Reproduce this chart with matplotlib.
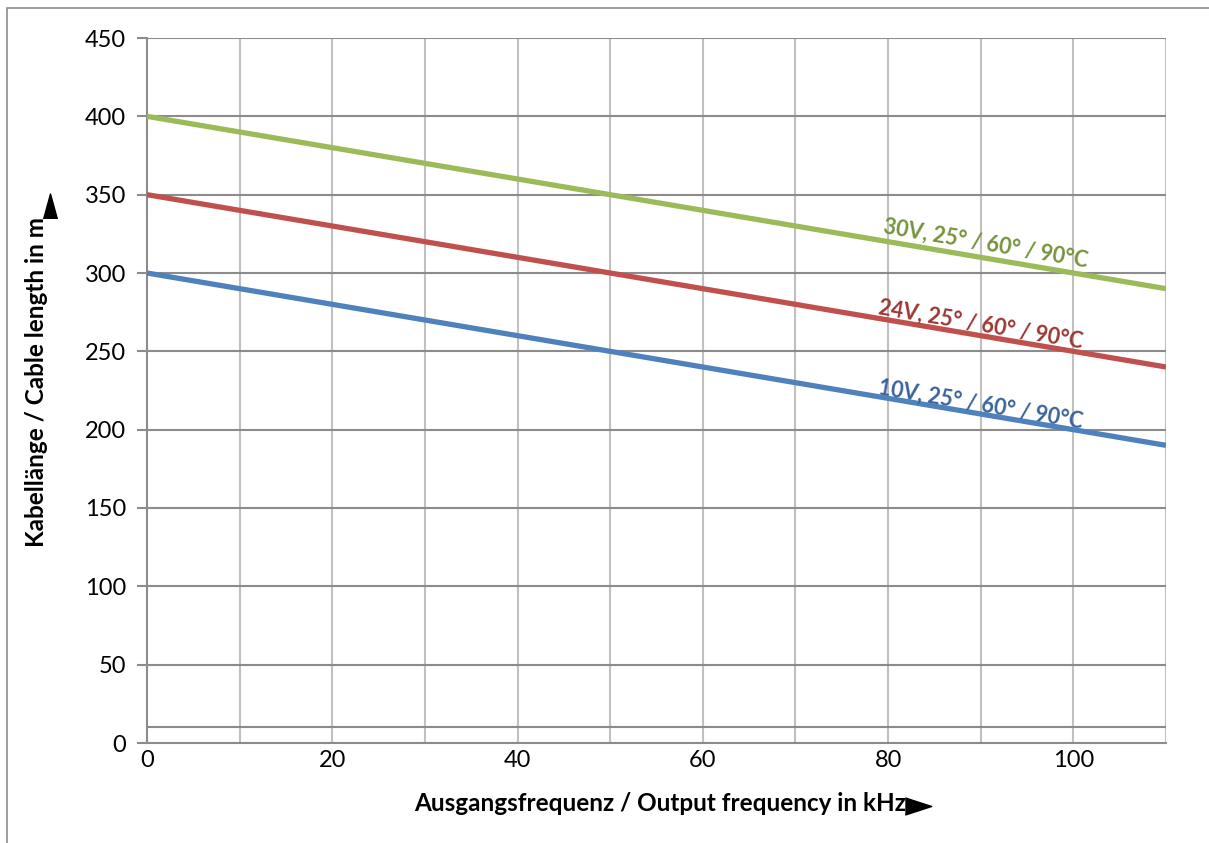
import matplotlib.pyplot as plt
from matplotlib.lines import Line2D
from matplotlib.patches import Rectangle

plt.rcParams['font.family'] = ['Lato', 'DejaVu Sans']

# data
freq_khz = [0, 110]
len_10v = [300, 190]
len_24v = [350, 240]
len_30v = [400, 290]
labels = ['10V, 25° / 60° / 90°C', '24V, 25° / 60° / 90°C', '30V, 25° / 60° / 90°C']
line_colors = ['#4F81BD', '#C0504D', '#9BBB59']
text_colors = ['#3A639A', '#9B3734', '#76933C']
label_pos = [(90.0, 216), (90.0, 267), (90.5, 319)]

W, H = 1209, 843
fig = plt.figure(figsize=(W / 100, H / 100), dpi=100)
ax = fig.add_axes([147 / W, 100 / H, 1019 / W, 705 / H])

# outer chart frame
fig.patches.append(Rectangle((7 / W, -0.1), 1.2, 835 / H + 0.1,
                             transform=fig.transFigure, fill=False,
                             edgecolor='#8c8c8c', linewidth=1.2))

for ys, c in zip([len_10v, len_24v, len_30v], line_colors):
    ax.plot(freq_khz, ys, color=c, linewidth=3.8, solid_capstyle='butt', zorder=5)

for (lx, ly), txt, c in zip(label_pos, labels, text_colors):
    ax.text(lx, ly, txt, color=c, fontsize=15.5, fontweight='bold',
            rotation=-9.6, rotation_mode='anchor', ha='center', va='center', zorder=6)

ax.set_xlim(0, 110)
ax.set_ylim(0, 450)
ax.set_xticks(range(0, 101, 20))
ax.set_yticks(range(0, 451, 50))

# grid: light vertical, darker horizontal
for x in range(10, 111, 10):
    ax.axvline(x, color='#c0c0c0', linewidth=1.5, zorder=1)
for y in range(50, 451, 50):
    ax.axhline(y, color='#8c8c8c', linewidth=1.5, zorder=1)
ax.axhline(10, color='#8c8c8c', linewidth=1.5, zorder=1)

for s in ['top', 'right']:
    ax.spines[s].set_visible(False)
for s in ['left', 'bottom']:
    ax.spines[s].set_color('#8c8c8c')
    ax.spines[s].set_linewidth(1.5)

ax.tick_params(axis='y', which='major', direction='out', length=7, width=1.5,
               color='#8c8c8c', labelsize=17, pad=8)
ax.tick_params(axis='x', which='both', length=0, labelsize=17, pad=5)

ax.set_xlabel('Ausgangsfrequenz / Output frequency in kHz', fontsize=17.5,
              fontweight='bold')
ax.set_ylabel('Kabellänge / Cable length in m', fontsize=17.5,
              fontweight='bold')
ax.xaxis.set_label_coords((660 - 147) / 1019, -(792 - 743) / 705)
ax.yaxis.set_label_coords(-(147 - 48) / 1019, (743 - 382) / 705)

# arrow heads after the axis titles
fig.add_artist(Line2D([918 / W], [1 - 806 / H], marker=[(-1, -0.65), (1, 0), (-1, 0.65)],
                      markersize=19, color='black', transform=fig.transFigure))
fig.add_artist(Line2D([50 / W], [1 - 206 / H], marker=[(-0.55, -1), (0, 1), (0.55, -1)],
                      markersize=18, color='black', transform=fig.transFigure))

fig.savefig('out.png', dpi=100)
